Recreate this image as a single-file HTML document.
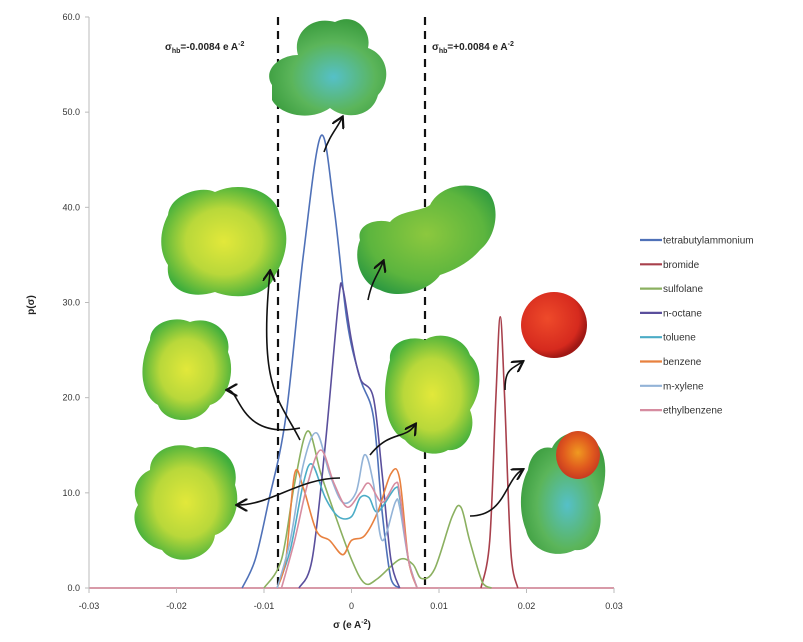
<!DOCTYPE html>
<html><head><meta charset="utf-8">
<style>
body{margin:0;background:#fff;}
svg{display:block;font-family:"Liberation Sans",sans-serif;}
</style></head>
<body>
<svg id="chart" width="803" height="642" viewBox="0 0 803 642">
<defs>
<radialGradient id="gy" cx="50%" cy="50%" r="55%"><stop offset="0" stop-color="#e2e83a"/><stop offset="0.55" stop-color="#b9d83a"/><stop offset="1" stop-color="#3fae3c"/></radialGradient>
<radialGradient id="gg" cx="50%" cy="45%" r="60%"><stop offset="0" stop-color="#8cc83e"/><stop offset="0.7" stop-color="#5cb53e"/><stop offset="1" stop-color="#2e9a40"/></radialGradient>
<radialGradient id="gt" cx="55%" cy="60%" r="60%"><stop offset="0" stop-color="#55c0c8"/><stop offset="0.6" stop-color="#5bb55a"/><stop offset="1" stop-color="#3a9c3e"/></radialGradient>
<radialGradient id="gr" cx="40%" cy="40%" r="60%"><stop offset="0" stop-color="#ee4a2a"/><stop offset="0.8" stop-color="#d62a1e"/><stop offset="1" stop-color="#a01814"/></radialGradient>
<radialGradient id="go" cx="50%" cy="45%" r="55%"><stop offset="0" stop-color="#f09a20"/><stop offset="0.6" stop-color="#e05a1e"/><stop offset="1" stop-color="#c83a20"/></radialGradient>
<marker id="ah" markerWidth="8" markerHeight="8" refX="6" refY="4" orient="auto"><path d="M0,0 L7,4 L0,8" fill="none" stroke="#111" stroke-width="1.4"/></marker>
</defs>
<g id="axes"></g>
<g id="curves"></g>
<g id="molecules">
<path d="M272,85 C262,70 280,55 298,55 C292,35 310,15 335,22 C355,12 372,30 368,48 C388,55 392,80 378,95 C372,118 345,120 330,108 C310,122 280,115 272,100 Z" fill="url(#gt)"/>
<path d="M168,215 C170,195 200,185 215,192 C240,180 275,190 280,215 C292,235 285,260 275,275 C268,298 235,300 215,292 C190,300 165,290 168,265 C158,250 160,230 168,215 Z" fill="url(#gy)"/>
<path d="M150,340 C150,322 175,315 190,322 C212,315 232,332 228,352 C236,372 228,400 210,405 C200,425 165,425 158,405 C140,395 138,365 150,340 Z" fill="url(#gy)"/>
<path d="M150,470 C150,450 175,440 195,448 C220,442 240,460 235,485 C242,505 232,530 215,535 C212,560 175,568 162,550 C140,545 128,520 138,505 C130,490 138,475 150,470 Z" fill="url(#gy)"/>
<path d="M360,240 C356,225 375,218 390,222 C400,210 420,212 430,205 C440,185 470,180 488,192 C500,205 498,235 480,250 C470,262 455,270 440,275 C430,290 400,300 380,290 C362,285 352,260 360,240 Z" fill="url(#gg)"/>
<path d="M390,360 C388,342 410,335 425,340 C440,330 465,338 470,355 C485,370 480,395 470,410 C478,430 465,452 448,450 C435,458 415,452 405,440 C385,430 380,395 390,360 Z" fill="url(#gy)"/>
<circle cx="554" cy="325" r="33" fill="url(#gr)"/>
<path d="M528,470 C530,455 540,445 552,448 C560,430 590,425 598,445 C610,460 605,490 598,505 C606,525 595,552 575,550 C555,560 530,550 526,530 C518,510 520,485 528,470 Z" fill="url(#gt)"/>
<ellipse cx="578" cy="455" rx="22" ry="24" fill="url(#go)"/>
</g>
<g id="arrows" fill="none" stroke="#111" stroke-width="1.6" marker-end="url(#ah)">
<path d="M324,152 C330,135 336,130 342,118"/>
<path d="M368,300 C372,280 378,275 383,262"/>
<path d="M300,440 C280,400 258,390 270,272"/>
<path d="M300,428 C240,440 240,390 228,390"/>
<path d="M340,478 C300,478 270,505 238,505"/>
<path d="M370,455 C390,430 405,440 415,425"/>
<path d="M470,516 C505,516 505,480 522,470"/>
<path d="M505,390 C505,370 510,370 522,362"/>
</g>
<g id="legend"></g>
</svg>
<script>
const NS="http://www.w3.org/2000/svg";
const names=["tetrabutylammonium","bromide","sulfolane","n-octane","toluene","benzene","m-xylene","ethylbenzene"];
const colors=["#4f71b8","#a8404c","#8bb060","#5a4f9c","#4bacc6","#e8813f","#93b3d7","#d68ca0"];
const sTBA=[-0.0125,-0.011,-0.0095,-0.0075,-0.0055,-0.0035,-0.002,-0.0005,0.001,0.0025,0.0035,0.0045,0.0055];
const pTBA=[0,3,9,18,35,47.5,40,28,22,18,8,1,0];
const sBr=[0.0148,0.0158,0.0165,0.017,0.0175,0.0182,0.019];
const pBr=[0,5,20,28.5,20,4,0];
const sSul=[-0.01,-0.008,-0.0065,-0.005,-0.0035,-0.002,0,0.0015,0.003,0.0055,0.007,0.008,0.0095,0.0115,0.0125,0.0135,0.015,0.016];
const pSul=[0,3,11,16.5,12,8,3,0.5,1,3,2.5,1,2,7.5,8.5,5,0.5,0];
const sOct=[-0.006,-0.0045,-0.003,-0.0015,-0.001,0,0.001,0.0025,0.0035,0.0045,0.0055];
const pOct=[0,3,15,30,31.5,26,22,20,12,3,0];
const sTol=[-0.0085,-0.007,-0.0055,-0.0045,-0.003,-0.0015,0,0.001,0.002,0.003,0.005,0.0055,0.0065,0.0075];
const pTol=[0,4,11,13,9.5,7.5,7.5,9.5,9.5,8,10.5,9.5,3,0];
const sBen=[-0.0085,-0.0075,-0.0065,-0.0055,-0.004,-0.0025,-0.001,0,0.0015,0.003,0.0045,0.0055,0.0065,0.0075];
const pBen=[0,3,12,10.5,6,5,3.5,5,5.5,8,12,11.5,3,0];
const sXyl=[-0.0085,-0.007,-0.0055,-0.004,-0.0025,-0.001,0.0005,0.0015,0.0025,0.0035,0.005,0.0055,0.0065,0.0075];
const pXyl=[0,5,13,16.3,12,9,10,14,11,5,9,8.5,3,0];
const sEth=[-0.008,-0.0065,-0.005,-0.0035,-0.002,-0.0005,0.001,0.002,0.0035,0.005,0.0055,0.0065,0.0075];
const pEth=[0,5,11,14.5,11,8.5,10,11,9,11,10,3,0];
const xTicks=[-0.03,-0.02,-0.01,0,0.01,0.02,0.03];
const xTickLabels=["-0.03","-0.02","-0.01","0","0.01","0.02","0.03"];
const yTicks=[0,10,20,30,40,50,60];
const yTickLabels=["0.0","10.0","20.0","30.0","40.0","50.0","60.0"];
const series=[[sTBA,pTBA],[sBr,pBr],[sSul,pSul],[sOct,pOct],[sTol,pTol],[sBen,pBen],[sXyl,pXyl],[sEth,pEth]];
const X=s=>351.5+s*8750, Y=p=>588-p*9.517;
function mk(t,a,par){const e=document.createElementNS(NS,t);for(const k in a)e.setAttribute(k,a[k]);par.appendChild(e);return e;}
const ax=document.getElementById('axes');
const base=mk('line',{x1:X(-0.03),x2:X(0.03),y1:Y(0),y2:Y(0),stroke:'#d89aa8','stroke-width':2},ax);


const yl=mk('line',{x1:X(-0.03),x2:X(-0.03),y1:Y(0),y2:Y(60),stroke:'#bbb','stroke-width':1},ax);


xTicks.forEach((v,i)=>{
 mk('line',{x1:X(v),x2:X(v),y1:Y(0),y2:Y(0)+5,stroke:'#bbb'},ax);
 const t=mk('text',{x:X(v),y:609,'font-size':9,'text-anchor':'middle',fill:'#333'},ax);t.textContent=xTickLabels[i];
 
 
});
yTicks.forEach((v,i)=>{
 mk('line',{x1:X(-0.03)-4,x2:X(-0.03),y1:Y(v),y2:Y(v),stroke:'#bbb'},ax);
 const t=mk('text',{x:80,y:Y(v)+3,'font-size':9,'text-anchor':'end',fill:'#333'},ax);t.textContent=yTickLabels[i];
 
 
});
[-0.0084,0.0084].forEach(v=>{
 const d=mk('line',{x1:X(v),x2:X(v),y1:Y(60),y2:Y(0),stroke:'#111','stroke-width':2.2,'stroke-dasharray':'8,6'},ax);
 
 
});
let t=mk('text',{x:165,y:50,'font-size':10,'font-weight':'bold',fill:'#222'},ax);
t.innerHTML='σ<tspan font-size="7" dy="3">hb</tspan><tspan dy="-3">=-0.0084 e A</tspan><tspan font-size="7" dy="-4">-2</tspan>';


t=mk('text',{x:432,y:50,'font-size':10,'font-weight':'bold',fill:'#222'},ax);
t.innerHTML='σ<tspan font-size="7" dy="3">hb</tspan><tspan dy="-3">=+0.0084 e A</tspan><tspan font-size="7" dy="-4">-2</tspan>';


t=mk('text',{x:34,y:305,'font-size':10,'font-weight':'bold',fill:'#222',transform:'rotate(-90 34 305)','text-anchor':'middle'},ax);t.textContent='p(σ)';


t=mk('text',{x:352,y:628,'font-size':10,'font-weight':'bold',fill:'#222','text-anchor':'middle'},ax);
t.innerHTML='σ (e A<tspan font-size="7" dy="-4">-2</tspan><tspan dy="4">)</tspan>';


function smooth(pts){let d='M'+pts[0][0]+','+pts[0][1];
 for(let i=0;i<pts.length-1;i++){const p0=pts[Math.max(0,i-1)],p1=pts[i],p2=pts[i+1],p3=pts[Math.min(pts.length-1,i+2)];
  const c1=[p1[0]+(p2[0]-p0[0])/6,p1[1]+(p2[1]-p0[1])/6],c2=[p2[0]-(p3[0]-p1[0])/6,p2[1]-(p3[1]-p1[1])/6];
  d+=` C${c1[0]},${Math.min(c1[1],588)} ${c2[0]},${Math.min(c2[1],588)} ${p2[0]},${p2[1]}`;}
 return d;}
const cg=document.getElementById('curves');
series.forEach((sr,i)=>{
 const pts=sr[0].map((s,j)=>[X(s),Y(sr[1][j])]);
 const p=mk('path',{d:smooth(pts),fill:'none',stroke:colors[i],'stroke-width':1.6},cg);
 
 
});
const lg=document.getElementById('legend');


names.forEach((n,i)=>{
 const y=240+i*24.3;
 const g=mk('g',{},lg);
 
 
 mk('line',{x1:640,x2:662,y1:y,y2:y,stroke:colors[i],'stroke-width':2.2},g);
 const tx=mk('text',{x:663,y:y+3.5,'font-size':10,fill:'#333'},g);tx.textContent=n;
});
</script>
</body></html>
